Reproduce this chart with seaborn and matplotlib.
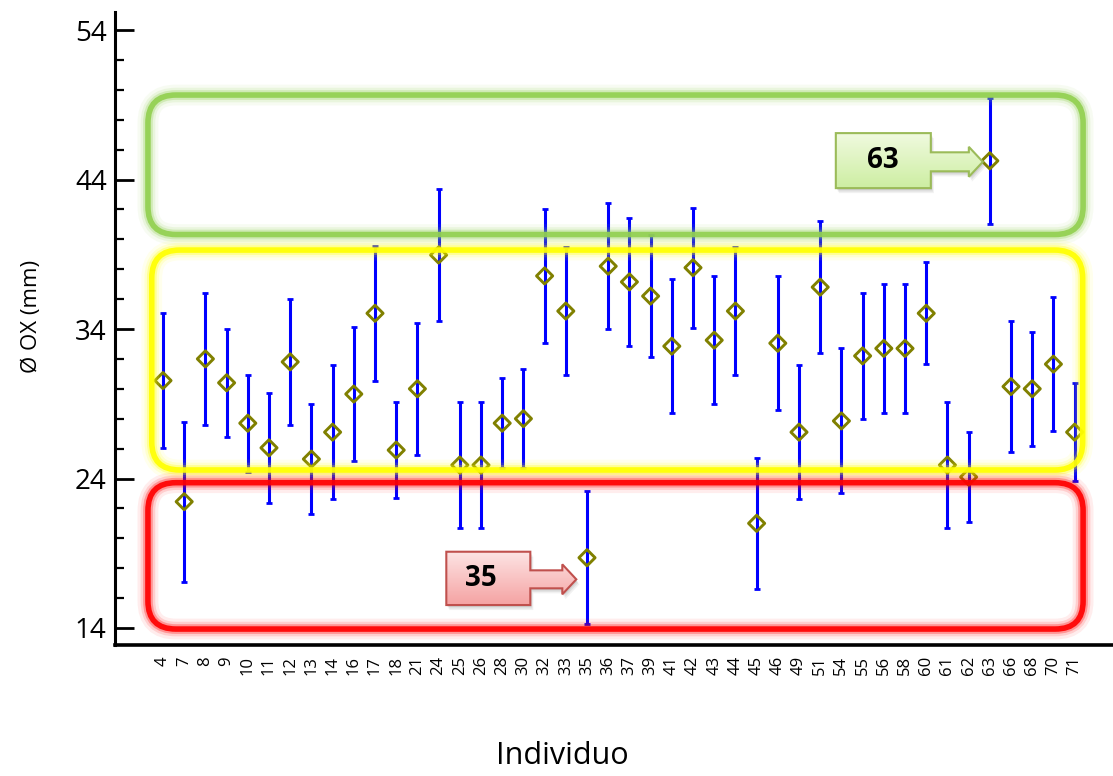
import numpy as np
import pandas as pd
import matplotlib
matplotlib.use("Agg")
import matplotlib.pyplot as plt
import matplotlib.transforms as mtransforms
import seaborn as sns
from matplotlib.patches import FancyBboxPatch, Polygon
from matplotlib.ticker import MultipleLocator
from matplotlib.colors import LinearSegmentedColormap

# ---------------- data ----------------
individuos = ["4", "7", "8", "9", "10", "11", "12", "13", "14", "16", "17", "18",
              "21", "24", "25", "26", "28", "30", "32", "33", "35", "36", "37", "39",
              "41", "42", "43", "44", "45", "46", "49", "51", "54", "55", "56", "58",
              "60", "61", "62", "63", "66", "68", "70", "71"]
ox_mean = [30.55, 22.45, 32.0, 30.4, 27.7, 26.05, 31.8, 25.3, 27.1, 29.65, 35.05, 25.9,
           30.0, 38.95, 24.9, 24.9, 27.7, 28.0, 37.55, 35.2, 18.7, 38.2, 37.15, 36.2,
           32.85, 38.1, 33.25, 35.2, 21.0, 33.05, 27.1, 36.8, 27.85, 32.2, 32.7, 32.7,
           35.05, 24.9, 24.1, 45.25, 30.15, 30.0, 31.65, 27.1]
ox_err = [4.5, 5.35, 4.4, 3.6, 3.25, 3.7, 4.2, 3.7, 4.5, 4.5, 4.5, 3.2,
          4.4, 4.4, 4.2, 4.2, 3.0, 3.3, 4.5, 4.3, 4.45, 4.2, 4.3, 4.1,
          4.5, 4.0, 4.3, 4.3, 4.4, 4.5, 4.5, 4.4, 4.85, 4.2, 4.3, 4.3,
          3.4, 4.2, 3.0, 4.2, 4.4, 3.8, 4.5, 3.3]
y_ticks = [14, 24, 34, 44, 54]

# group boxes: (x0, x1, y0, y1, colour)
groups = [(-0.71, 43.4, 40.32, 49.65, "#92d050"),
          (-0.53, 43.38, 24.57, 39.28, "#ffff00"),
          (-0.71, 43.4, 13.93, 23.72, "#ff0000")]
callout_labels = ["63", "35"]

# ---------------- figure ----------------
sns.set_theme(style="white")
plt.rcParams['font.family'] = ['Open Sans', 'DejaVu Sans']
plt.rcParams['text.color'] = 'black'
plt.rcParams['axes.labelcolor'] = 'black'
plt.rcParams['xtick.color'] = 'black'
plt.rcParams['ytick.color'] = 'black'

W, H = 1113, 776
fig = plt.figure(figsize=(W / 100, H / 100), dpi=100)
ax = fig.add_axes([115 / W, 131 / H, 998 / W, 633 / H])

df = pd.DataFrame({"Individuo": individuos, "OX": ox_mean, "err": ox_err})
df["pos"] = np.arange(len(df))

ax.errorbar(df["pos"], df["OX"], yerr=df["err"], fmt="none", ecolor="#0000ff",
            elinewidth=2.2, capsize=2.0, capthick=2.0, zorder=2)
sns.scatterplot(data=df, x="pos", y="OX", marker="D", s=68, color="#808000",
                linewidth=2.1, ax=ax, zorder=3, legend=False)
pts = ax.collections[-1]
pts.set_facecolor("none")
pts.set_edgecolor("#808000")

# rounded glowing group boxes
ux = 1.32
asp = (28 / 14.95) / ux
for x0, x1, y0, y1, col in groups:
    for lw, a in [(15, 0.07), (10.5, 0.13), (7, 0.28)]:
        p = FancyBboxPatch((x0, y0), x1 - x0, y1 - y0,
                           boxstyle=f"round,pad=0,rounding_size={ux}",
                           mutation_aspect=asp, fill=False, edgecolor=col,
                           linewidth=lw, alpha=a, zorder=4)
        ax.add_patch(p)
    p = FancyBboxPatch((x0, y0), x1 - x0, y1 - y0,
                       boxstyle=f"round,pad=0,rounding_size={ux}",
                       mutation_aspect=asp, fill=False, edgecolor=col,
                       linewidth=4.0, alpha=0.92, zorder=4.5)
    ax.add_patch(p)


def callout(label, tip_px, rect_w, rect_top, rect_bot, shaft_len, shaft_half,
            head_half, c_top, c_bot, edge, text_dx=0):
    i = individuos.index(label)
    anchor = mtransforms.ScaledTranslation(df["pos"][i], df["OX"][i], ax.transData)
    tr = mtransforms.Affine2D().scale(1 / 100) + fig.dpi_scale_trans + anchor
    tx, ty = tip_px
    hb = tx - 14
    r_right = hb - shaft_len
    r_left = r_right - rect_w
    verts = [(r_left, ty + rect_top), (r_right, ty + rect_top),
             (r_right, ty + shaft_half), (hb, ty + shaft_half),
             (hb, ty + head_half), (tx, ty), (hb, ty - head_half),
             (hb, ty - shaft_half), (r_right, ty - shaft_half),
             (r_right, ty + rect_bot), (r_left, ty + rect_bot)]
    for k, a in [(5, 0.10), (3.5, 0.14), (2, 0.18)]:
        shadow = Polygon([(x + k * 0.6, y - k) for x, y in verts], closed=True,
                         facecolor="#7f7f7f", edgecolor="none", alpha=a,
                         transform=tr, zorder=5)
        ax.add_patch(shadow)
    poly = Polygon(verts, closed=True, facecolor="none", edgecolor=edge,
                   linewidth=1.5, transform=tr, zorder=6.5)
    ax.add_patch(poly)
    grad = np.linspace(0, 1, 64).reshape(-1, 1)
    cmap = LinearSegmentedColormap.from_list("g", [c_top, c_bot])
    im = ax.imshow(grad, cmap=cmap, aspect="auto", origin="upper",
                   extent=(r_left, tx, ty + rect_bot, ty + rect_top),
                   transform=tr, zorder=6, interpolation="bilinear")
    clip = Polygon(verts, closed=True, transform=tr, facecolor="none", edgecolor="none")
    ax.add_patch(clip)
    im.set_clip_path(clip)
    ax.text((r_left + r_right) / 2 + text_dx, ty + (rect_top + rect_bot) / 2,
            label, transform=tr, ha="center", va="center", fontsize=20,
            fontweight="bold", color="black", zorder=7)


callout(callout_labels[0], (-7, -1), 95, 28.7, -26.3, 38, 9.5, 15,
        "#f0fadf", "#cdeea2", "#9bbb59")
callout(callout_labels[1], (-10.7, -21.6), 84, 27.6, -25.7, 32, 9, 15,
        "#fde4e4", "#f5a3a3", "#c0504d", text_dx=-7)

# ---------------- axes styling ----------------
ax.set_xlim(-2.264, 44.81)
ax.set_ylim(14 - 17 / 14.95, 54 + 18 / 14.95)
ax.set_xticks(df["pos"])
ax.set_xticklabels(individuos, rotation=90, fontsize=12)
ax.set_yticks(y_ticks)
ax.set_yticklabels([str(v) for v in y_ticks], fontsize=20)
ax.yaxis.set_minor_locator(MultipleLocator(2))
ax.tick_params(axis="y", which="major", direction="in", length=13.5, width=2.0,
               pad=6, color="black", left=True)
ax.tick_params(axis="y", which="minor", direction="in", length=6.5, width=1.6,
               color="black", left=True)
ax.tick_params(axis="x", which="both", length=0, pad=8)
for s in ["top", "right"]:
    ax.spines[s].set_visible(False)
ax.spines["left"].set_linewidth(2.2)
ax.spines["bottom"].set_linewidth(2.6)
ax.spines["left"].set_color("black")
ax.spines["bottom"].set_color("black")
ax.grid(False)

ax.set_xlabel("Individuo", fontsize=22)
ax.set_ylabel("Ø OX (mm)", fontsize=16)
ax.xaxis.label.set_va("center")
ax.yaxis.label.set_va("center")
ax.xaxis.set_label_coords((562.5 - 115) / 998, (645 - 756) / 633)
ax.yaxis.set_label_coords((31 - 115) / 998, (645 - 316) / 633)

fig.savefig("out.png", dpi=100)
